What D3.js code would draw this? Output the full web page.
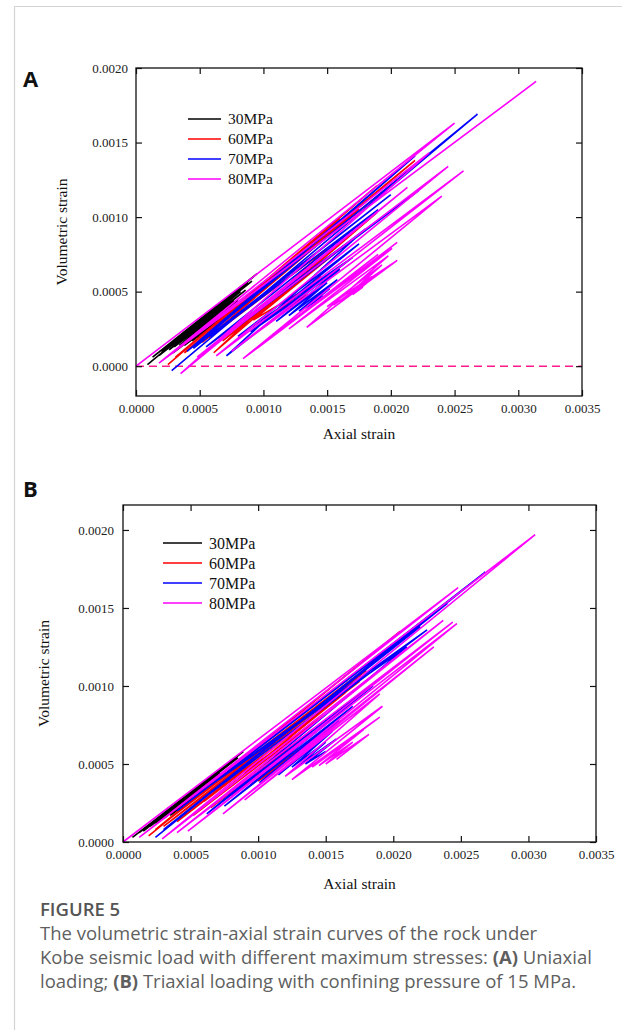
<!DOCTYPE html>
<html>
<head>
<meta charset="utf-8">
<script src="https://cdn.jsdelivr.net/npm/d3@7"></script>
<style>
  html, body { margin: 0; padding: 0; background: #fff; }
  svg { display: block; }
</style>
</head>
<body>
<svg id="fig" width="622" height="1030"></svg>
<script>
// Series labels and colours (maximum stress of the Kobe seismic load)
const seriesNames = ["30MPa", "60MPa", "70MPa", "80MPa"];
const seriesColors = ["#000000", "#ff0000", "#0000ff", "#ff00ff"];

// Tick values
const xTicks = [0, 0.0005, 0.0010, 0.0015, 0.0020, 0.0025, 0.0030, 0.0035];
const yTicks = [0, 0.0005, 0.0010, 0.0015, 0.0020];

// (A) Uniaxial loading: turning points [axial strain, volumetric strain]
const a30 = [
  [0.00009, 0.00001], [0.00095, 0.00062], [0.00013, 0.00006], [0.00088, 0.00056],
  [0.00020, 0.00010], [0.00091, 0.00057], [0.00018, 0.00007], [0.00082, 0.00050],
  [0.00026, 0.00011], [0.00086, 0.00051], [0.00030, 0.00013], [0.00077, 0.00044],
  [0.00034, 0.00014], [0.00080, 0.00044], [0.00029, 0.00009], [0.00071, 0.00036],
  [0.00038, 0.00014], [0.00074, 0.00037], [0.00044, 0.00017], [0.00068, 0.00032]
];
const a60 = [
  [0.00025, 0.00001], [0.00189, 0.00121], [0.00031, 0.00006], [0.00160, 0.00099],
  [0.00038, 0.00009], [0.00205, 0.00125], [0.00046, 0.00014], [0.00219, 0.00138],
  [0.00050, 0.00020], [0.00175, 0.00105], [0.00052, 0.00016], [0.00140, 0.00075],
  [0.00057, 0.00019], [0.00150, 0.00079], [0.00061, 0.00009], [0.00189, 0.00103],
  [0.00068, 0.00017], [0.00128, 0.00057], [0.00085, 0.00029], [0.00165, 0.00082],
  [0.00092, 0.00031], [0.00130, 0.00050], [0.00105, 0.00033], [0.00145, 0.00060],
  [0.00110, 0.00036], [0.00135, 0.00048], [0.00100, 0.00026], [0.00122, 0.00040]
];
const a70 = [
  [0.00028, -0.00003], [0.00268, 0.00169], [0.00040, 0.00010], [0.00219, 0.00141],
  [0.00045, 0.00012], [0.00200, 0.00115], [0.00058, 0.00020], [0.00190, 0.00105],
  [0.00055, 0.00013], [0.00222, 0.00118], [0.00065, 0.00017], [0.00180, 0.00092],
  [0.00071, 0.00007], [0.00170, 0.00073], [0.00080, 0.00020], [0.00175, 0.00082],
  [0.00090, 0.00023], [0.00165, 0.00070], [0.00095, 0.00026], [0.00160, 0.00065],
  [0.00110, 0.00030], [0.00150, 0.00056], [0.00120, 0.00034], [0.00158, 0.00058],
  [0.00128, 0.00037], [0.00152, 0.00052], [0.00133, 0.00039], [0.00147, 0.00047]
];
const a80 = [
  [0.00000, 0.00000], [0.00250, 0.00163], [0.00018, 0.00002], [0.00314, 0.00191],
  [0.00024, 0.00006], [0.00230, 0.00143], [0.00035, -0.00005], [0.00213, 0.00120],
  [0.00048, 0.00006], [0.00245, 0.00134], [0.00063, 0.00007], [0.00257, 0.00131],
  [0.00075, 0.00010], [0.00240, 0.00114], [0.00084, 0.00005], [0.00205, 0.00083],
  [0.00095, 0.00012], [0.00190, 0.00075], [0.00108, 0.00021], [0.00201, 0.00079],
  [0.00120, 0.00025], [0.00198, 0.00074], [0.00134, 0.00026], [0.00205, 0.00071],
  [0.00150, 0.00040], [0.00193, 0.00068], [0.00160, 0.00043], [0.00185, 0.00060],
  [0.00162, 0.00047], [0.00180, 0.00056], [0.00155, 0.00041], [0.00190, 0.00062],
  [0.00170, 0.00048], [0.00178, 0.00053]
];

// (B) Triaxial loading, confining pressure 15 MPa
const b30 = [
  [0.00007, 0.00003], [0.00089, 0.00058], [0.00012, 0.00006], [0.00080, 0.00051],
  [0.00015, 0.00007], [0.00085, 0.00054], [0.00020, 0.00010], [0.00072, 0.00044],
  [0.00024, 0.00012], [0.00078, 0.00047], [0.00030, 0.00015], [0.00066, 0.00039],
  [0.00035, 0.00017], [0.00070, 0.00040], [0.00040, 0.00020], [0.00060, 0.00033]
];
const b60 = [
  [0.00019, 0.00004], [0.00205, 0.00135], [0.00024, 0.00008], [0.00190, 0.00118],
  [0.00030, 0.00010], [0.00160, 0.00095], [0.00045, 0.00020], [0.00180, 0.00110],
  [0.00040, 0.00013], [0.00175, 0.00103], [0.00060, 0.00026], [0.00165, 0.00096],
  [0.00052, 0.00017], [0.00150, 0.00082], [0.00090, 0.00045], [0.00120, 0.00060],
  [0.00065, 0.00022], [0.00140, 0.00072], [0.00100, 0.00045], [0.00140, 0.00070],
  [0.00080, 0.00030], [0.00130, 0.00062], [0.00095, 0.00037], [0.00138, 0.00064],
  [0.00100, 0.00039], [0.00125, 0.00054], [0.00105, 0.00040], [0.00132, 0.00058]
];
const b70 = [
  [0.00024, 0.00003], [0.00268, 0.00173], [0.00040, 0.00020], [0.00240, 0.00153],
  [0.00030, 0.00008], [0.00220, 0.00138], [0.00055, 0.00025], [0.00225, 0.00136],
  [0.00051, 0.00028], [0.00210, 0.00125], [0.00062, 0.00018], [0.00195, 0.00108],
  [0.00085, 0.00034], [0.00185, 0.00100], [0.00075, 0.00023], [0.00170, 0.00087],
  [0.00101, 0.00038], [0.00160, 0.00078], [0.00115, 0.00043], [0.00155, 0.00071],
  [0.00125, 0.00048], [0.00150, 0.00064], [0.00130, 0.00049], [0.00158, 0.00066],
  [0.00135, 0.00050], [0.00150, 0.00058]
];
const b80 = [
  [0.00000, 0.00000], [0.00248, 0.00163], [0.00012, 0.00003], [0.00305, 0.00197],
  [0.00029, 0.00002], [0.00237, 0.00142], [0.00040, 0.00006], [0.00244, 0.00141],
  [0.00048, 0.00007], [0.00247, 0.00140], [0.00074, 0.00018], [0.00230, 0.00125],
  [0.00090, 0.00027], [0.00190, 0.00095], [0.00120, 0.00042], [0.00192, 0.00087],
  [0.00125, 0.00040], [0.00190, 0.00080], [0.00140, 0.00048], [0.00178, 0.00072],
  [0.00145, 0.00049], [0.00170, 0.00064], [0.00150, 0.00050], [0.00182, 0.00069],
  [0.00158, 0.00053]
];

const svg = d3.select("#fig");
const serif = "'Liberation Serif', 'Times New Roman', serif";
const sans = "'Open Sans', 'Noto Sans', sans-serif";
const fmt = d3.format(".4f");

// Card outline on the left and top
svg.append("path")
  .attr("d", "M14.5,1030 V6.5 H622")
  .attr("fill", "none").attr("stroke", "#d4d4d4").attr("stroke-width", 1.2);

function drawPanel(p) {
  const x = d3.scaleLinear().domain(p.xDomain).range([p.left, p.right]);
  const y = d3.scaleLinear().domain(p.yDomain).range([p.bottom, p.top]);
  const g = svg.append("g");

  // panel letter
  svg.append("text").attr("x", p.letterX).attr("y", p.letterY)
    .attr("font-family", sans).attr("font-weight", 700).attr("font-size", 22)
    .attr("fill", "#111").text(p.letter);

  // reference line at zero volumetric strain
  if (p.zeroLine) {
    g.append("line")
      .attr("x1", x(p.xDomain[0])).attr("x2", x(p.xDomain[1]))
      .attr("y1", y(0)).attr("y2", y(0))
      .attr("stroke", "#ff1a8c").attr("stroke-width", 1.6)
      .attr("stroke-dasharray", "8,5");
  }

  // loading curves
  const line = d3.line().x(d => x(d[0])).y(d => y(d[1]));
  p.series.forEach((s, i) => {
    g.append("path").datum(s)
      .attr("d", line)
      .attr("fill", "none")
      .attr("stroke", seriesColors[i])
      .attr("stroke-width", 1.6)
      .attr("stroke-linejoin", "bevel");
  });

  // axes with inward ticks on all four sides
  const axB = g.append("g").attr("transform", `translate(0,${p.bottom})`)
    .call(d3.axisBottom(x).tickValues(xTicks).tickSize(-6).tickPadding(p.xPad).tickFormat(fmt));
  const axT = g.append("g").attr("transform", `translate(0,${p.top})`)
    .call(d3.axisTop(x).tickValues(xTicks).tickSize(-6).tickFormat(""));
  const axL = g.append("g").attr("transform", `translate(${p.left},0)`)
    .call(d3.axisLeft(y).tickValues(yTicks).tickSize(-6).tickPadding(p.yPad).tickFormat(fmt));
  const axR = g.append("g").attr("transform", `translate(${p.right},0)`)
    .call(d3.axisRight(y).tickValues(yTicks).tickSize(-6).tickFormat(""));
  [axB, axT, axL, axR].forEach(a => {
    a.select(".domain").remove();
    a.selectAll(".tick line").attr("stroke", "#111").attr("stroke-width", 1.2);
    a.selectAll(".tick text").attr("font-family", serif).attr("font-size", 13).attr("fill", "#222");
  });

  // plot frame
  g.append("rect")
    .attr("x", p.left).attr("y", p.top)
    .attr("width", p.right - p.left).attr("height", p.bottom - p.top)
    .attr("fill", "none").attr("stroke", "#111").attr("stroke-width", 1.3);

  // axis titles
  g.append("text")
    .attr("x", (p.left + p.right) / 2).attr("y", p.xTitleY)
    .attr("text-anchor", "middle").attr("font-family", serif).attr("font-size", 15.5)
    .attr("fill", "#111").text("Axial strain");
  g.append("text")
    .attr("transform", `translate(${p.yTitleX},${(p.top + p.bottom) / 2}) rotate(-90)`)
    .attr("text-anchor", "middle").attr("font-family", serif).attr("font-size", 15.5)
    .attr("fill", "#111").text("Volumetric strain");

  // legend
  const lg = g.append("g");
  seriesNames.forEach((name, i) => {
    const yy = p.legY + i * p.legStep;
    lg.append("line")
      .attr("x1", p.legX).attr("x2", p.legX + p.legLen)
      .attr("y1", yy).attr("y2", yy)
      .attr("stroke", seriesColors[i]).attr("stroke-width", 1.6);
    lg.append("text")
      .attr("x", p.legX + p.legLen + 7).attr("y", yy).attr("dy", "0.35em")
      .attr("font-family", serif).attr("font-size", p.legFont).attr("fill", "#111")
      .text(name);
  });
}

drawPanel({
  letter: "A", letterX: 23, letterY: 87,
  left: 136, right: 582, top: 68, bottom: 396,
  xDomain: [0, 0.0035], yDomain: [-0.0002, 0.0020],
  series: [a30, a60, a70, a80], zeroLine: true,
  xPad: 8, yPad: 8, xTitleY: 439, yTitleX: 67,
  legX: 188, legLen: 33, legY: 119, legStep: 20, legFont: 15.5
});

drawPanel({
  letter: "B", letterX: 23, letterY: 497,
  left: 123, right: 596, top: 505, bottom: 842,
  xDomain: [0, 0.0035], yDomain: [0, 0.00216],
  series: [b30, b60, b70, b80], zeroLine: false,
  xPad: 8, yPad: 9, xTitleY: 889, yTitleX: 49,
  legX: 163, legLen: 39, legY: 543, legStep: 20, legFont: 16
});

// Figure caption
const cap = svg.append("g").attr("font-family", sans).attr("fill", "#5f5f5f");
cap.append("text").attr("x", 40).attr("y", 916)
  .attr("font-size", 18.5).attr("font-weight", 600).attr("fill", "#555").text("FIGURE 5");
const capLines = [
  [["The volumetric strain-axial strain curves of the rock under", 400]],
  [["Kobe seismic load with different maximum stresses: ", 400], ["(A)", 700], [" Uniaxial", 400]],
  [["loading; ", 400], ["(B)", 700], [" Triaxial loading with confining pressure of 15 MPa.", 400]]
];
capLines.forEach((parts, i) => {
  const t = cap.append("text").attr("x", 40).attr("y", 940 + i * 24).attr("font-size", 18.5);
  parts.forEach(([s, w]) => t.append("tspan").attr("font-weight", w).text(s));
});
</script>
</body>
</html>
